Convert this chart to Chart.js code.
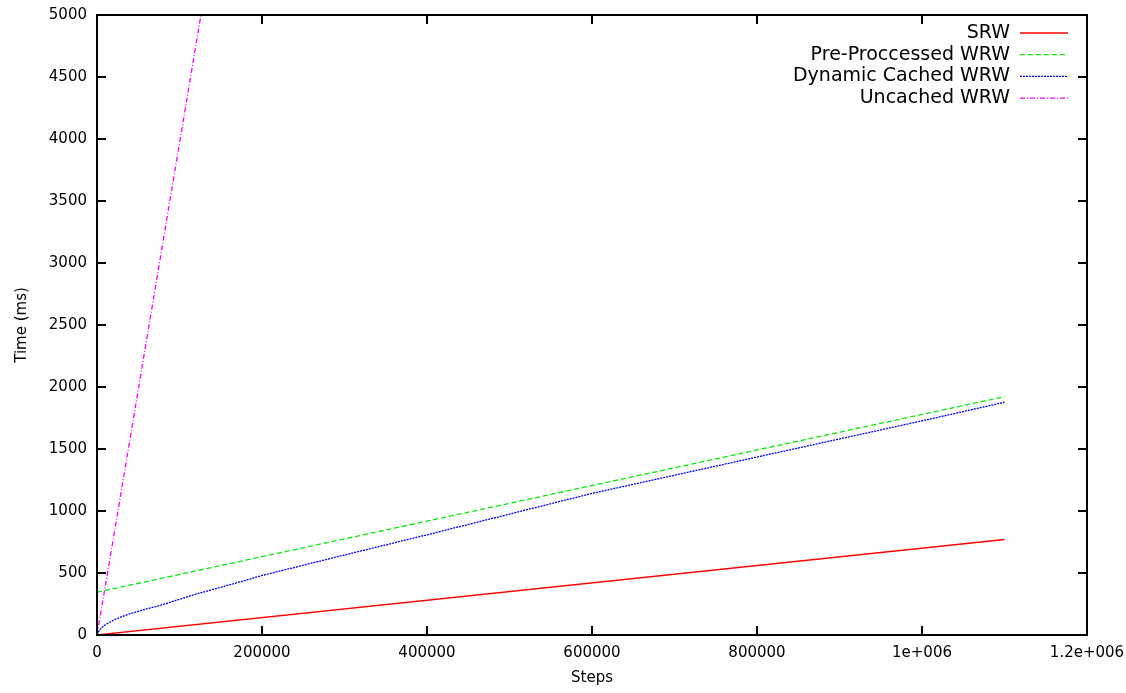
<!DOCTYPE html>
<html>
<head>
<meta charset="utf-8">
<script src="https://cdn.jsdelivr.net/npm/chart.js@4.4.1/dist/chart.umd.min.js"></script>
<style>
    body { margin: 0; background: #fff; }
    #wrap { width: 1126px; height: 693px; overflow: hidden; }
</style>
</head>
<body>
<div id="wrap"><canvas id="grafik" width="1180" height="693"></canvas></div>
<script>
// data
const srwSteps = [0, 1100000]
const srwTime = [0, 770]
const preSteps = [0, 1100000]
const preTime = [345, 1922]
const dynSteps = [0, 3600, 9700, 21800, 38000, 58000, 78000, 119000, 160000, 200000, 300000, 400000, 600000, 800000, 1000000, 1100000]
const dynTime = [0, 46, 81, 126, 167, 207, 242, 328, 403, 480, 645, 808, 1142, 1435, 1727, 1877]
const uncSteps = [0, 20000, 126000]
const uncTime = [0, 785, 5000]

const xTicks = [0, 200000, 400000, 600000, 800000, 1000000, 1200000]
const xLabels = ['0', '200000', '400000', '600000', '800000', '1e+006', '1.2e+006']

const font = 'DejaVu Sans'

const toPoints = (xs, ys) => xs.map((x, i) => ({ x: x, y: ys[i] }))

const makeSet = (label, xs, ys, color, dash) => ({
    label: label,
    data: toPoints(xs, ys),
    borderColor: color,
    borderWidth: 1.3,
    borderDash: dash,
    pointRadius: 0,
    fill: false
})

// frame with inward ticks on all four sides
const framePlugin = {
    id: 'frame',
    afterDatasetsDraw(chart) {
        const { ctx, chartArea: a, scales } = chart
        ctx.save()
        ctx.strokeStyle = '#000'
        ctx.lineWidth = 2
        ctx.strokeRect(a.left, a.top, a.right - a.left, a.bottom - a.top)
        const len = 9
        ctx.beginPath()
        scales.x.ticks.forEach(t => {
            const px = Math.round(scales.x.getPixelForValue(t.value))
            ctx.moveTo(px, a.bottom); ctx.lineTo(px, a.bottom - len)
            ctx.moveTo(px, a.top); ctx.lineTo(px, a.top + len)
        })
        scales.y.ticks.forEach(t => {
            const py = Math.round(scales.y.getPixelForValue(t.value))
            ctx.moveTo(a.left, py); ctx.lineTo(a.left + len, py)
            ctx.moveTo(a.right, py); ctx.lineTo(a.right - len, py)
        })
        ctx.stroke()
        ctx.restore()
    }
}

// gnuplot style key: text first, sample line after it
const keyPlugin = {
    id: 'key',
    afterDraw(chart) {
        const { ctx, chartArea: a } = chart
        ctx.save()
        ctx.font = '19px "' + font + '"'
        ctx.textAlign = 'right'
        ctx.textBaseline = 'middle'
        chart.data.datasets.forEach((ds, i) => {
            const y = a.top + 18 + i * 21.7
            ctx.fillStyle = '#000'
            ctx.fillText(ds.label, a.right - 77, y)
            ctx.strokeStyle = ds.borderColor
            ctx.lineWidth = 1.3
            ctx.setLineDash(ds.borderDash)
            ctx.beginPath()
            ctx.moveTo(a.right - 67, y)
            ctx.lineTo(a.right - 19, y)
            ctx.stroke()
        })
        ctx.restore()
    }
}

const ctx = document.getElementById('grafik').getContext('2d')
const grafik = new Chart(ctx, {
    type: 'line',
    data: {
        datasets: [
            makeSet('SRW', srwSteps, srwTime, '#ff0000', []),
            makeSet('Pre-Proccessed WRW', preSteps, preTime, '#00ee00', [5, 3]),
            makeSet('Dynamic Cached WRW', dynSteps, dynTime, '#0000ff', [2, 1]),
            makeSet('Uncached WRW', uncSteps, uncTime, '#ff00ff', [5, 2, 1, 2])
        ]
    },
    options: {
        responsive: false,
        animation: false,
        layout: { padding: { left: 0, top: 15, right: 93, bottom: 0 } },
        plugins: {
            legend: { display: false },
            tooltip: { enabled: false }
        },
        scales: {
            x: {
                type: 'linear',
                min: 0,
                max: 1200000,
                afterBuildTicks: s => { s.ticks = xTicks.map(v => ({ value: v })) },
                afterFit: s => { s.height = 58 },
                grid: { display: false, drawTicks: false },
                border: { display: false },
                ticks: {
                    maxRotation: 0,
                    autoSkip: false,
                    padding: 9,
                    color: '#000',
                    font: { family: font, size: 15 },
                    callback: v => xLabels[xTicks.indexOf(v)]
                },
                title: {
                    display: true,
                    text: 'Steps',
                    color: '#000',
                    padding: { top: 0, bottom: 6 },
                    font: { family: font, size: 15 }
                }
            },
            y: {
                min: 0,
                max: 5000,
                // fixed width, and no extra room above the top label
                afterFit: s => {
                    s.width = 97
                    s.paddingTop = 0
                    s.paddingBottom = 0
                },
                grid: { display: false, drawTicks: false },
                border: { display: false },
                ticks: {
                    stepSize: 500,
                    padding: 10,
                    color: '#000',
                    font: { family: font, size: 15 },
                    callback: v => String(v)
                },
                title: {
                    display: true,
                    text: 'Time (ms)',
                    color: '#000',
                    padding: { top: 13, bottom: 0 },
                    font: { family: font, size: 15 }
                }
            }
        }
    },
    plugins: [framePlugin, keyPlugin]
})
</script>
</body>
</html>
